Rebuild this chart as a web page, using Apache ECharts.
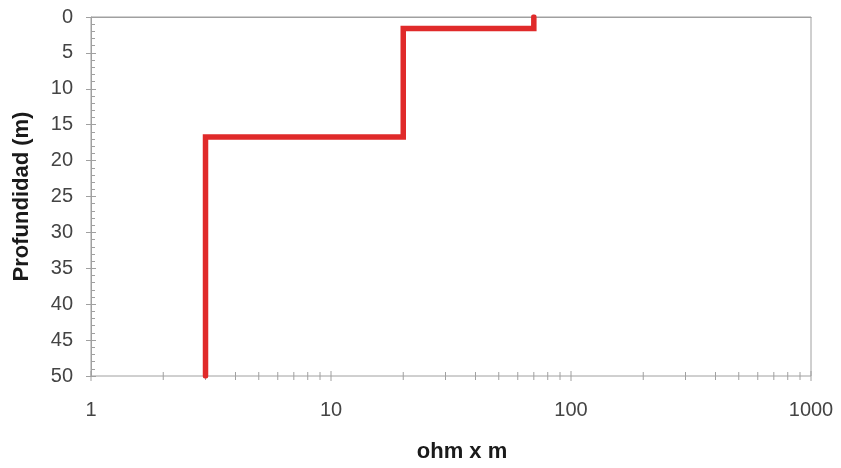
<!DOCTYPE html>
<html>
<head>
<meta charset="utf-8">
<script src="https://cdn.jsdelivr.net/npm/echarts@6/dist/echarts.min.js"></script>
<style>html,body{margin:0;padding:0;background:#fff}#c{width:841px;height:468px}</style>
</head>
<body>
<div id="c"></div>
<script>
// Resistivity profile (ohm x m) vs depth (m)
var resistivity = [70, 70, 20, 20, 3, 3];
var depth = [0, 1.6, 1.6, 16.7, 16.7, 50];
var xMajorTicks = [1, 10, 100, 1000];
var xMinorTicks = [2,3,4,5,6,7,8,9,20,30,40,50,60,70,80,90,200,300,400,500,600,700,800,900];
var yTickLabels = [0, 5, 10, 15, 20, 25, 30, 35, 40, 45, 50];
var xTitle = 'ohm x m';
var yTitle = 'Profundidad (m)';

var lineData = resistivity.map(function (r, i) { return [r, depth[i]]; });
var tickData = xMajorTicks.map(function (v) { return [v, 1]; })
  .concat(xMinorTicks.map(function (v) { return [v, 0]; }));

var FONT = 'Liberation Sans, Arial, sans-serif';
var chart = echarts.init(document.getElementById('c'), null, { renderer: 'canvas' });
chart.setOption({
  animation: false,
  backgroundColor: '#fff',
  grid: { left: 91, right: 30, top: 17, bottom: 92, show: true, borderColor: '#a0a0a0', borderWidth: 1, backgroundColor: 'transparent' },
  xAxis: {
    type: 'log', logBase: 10, min: 1, max: 1000,
    name: xTitle, nameLocation: 'middle', nameGap: 65,
    nameTextStyle: { fontFamily: FONT, fontSize: 22, fontWeight: 'bold', color: '#1a1a1a', padding: [0, 0, 0, 22] },
    axisLine: { show: true, lineStyle: { color: '#a0a0a0', width: 1 } },
    axisTick: { show: false },
    splitLine: { show: false },
    axisLabel: { fontFamily: FONT, fontSize: 20, color: '#444', margin: 24,
      formatter: function (v) { return xMajorTicks.indexOf(Math.round(v)) >= 0 ? String(Math.round(v)) : ''; } }
  },
  yAxis: [{
    type: 'value', inverse: true, min: 0, max: 50, interval: 5,
    name: yTitle, nameLocation: 'middle', nameGap: 58,
    nameTextStyle: { fontFamily: FONT, fontSize: 22, fontWeight: 'bold', color: '#1a1a1a' },
    axisLine: { show: true, lineStyle: { color: '#a0a0a0', width: 1 } },
    axisTick: { show: true, inside: false, length: 5, lineStyle: { color: '#a0a0a0' } },
    splitLine: { show: false },
    axisLabel: { fontFamily: FONT, fontSize: 20, color: '#444', margin: 18,
      formatter: function (v) { return yTickLabels.indexOf(v) >= 0 ? String(v) : ''; } }
  }, {
    type: 'value', inverse: true, min: 0, max: 50, interval: 5, position: 'left',
    axisLine: { show: false },
    axisTick: { show: true, inside: true, length: 5, lineStyle: { color: '#a0a0a0' } },
    minorTick: { show: true, splitNumber: 5, length: 4, lineStyle: { color: '#a0a0a0' } },
    axisLabel: { show: false },
    splitLine: { show: false }
  }],
  series: [{
    type: 'custom',
    silent: true,
    clip: false,
    data: tickData,
    renderItem: function (params, api) {
      var p = api.coord([api.value(0), 50]);
      var h = api.value(1) ? 5 : 4;
      return {
        type: 'line',
        shape: { x1: p[0], y1: p[1] - h, x2: p[0], y2: p[1] + h },
        style: { stroke: '#a0a0a0', lineWidth: 1 }
      };
    },
    z: 1
  }, {
    type: 'line',
    data: lineData,
    symbol: 'none',
    lineStyle: { color: '#e02a2a', width: 5.5, cap: 'round', join: 'miter' },
    z: 5
  }]
});
</script>
</body>
</html>
